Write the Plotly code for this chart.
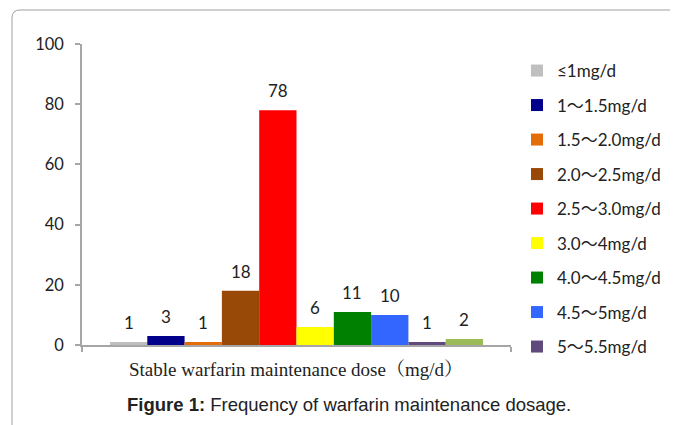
import plotly.graph_objects as go

categories = ["≤1mg/d", "1～1.5mg/d", "1.5～2.0mg/d", "2.0～2.5mg/d", "2.5～3.0mg/d",
              "3.0～4mg/d", "4.0～4.5mg/d", "4.5～5mg/d", "5～5.5mg/d", "≥5.5mg/d"]
counts = [1, 3, 1, 18, 78, 6, 11, 10, 1, 2]
colors = ["#bfbfbf", "#00008b", "#e46c0a", "#984807", "#ff0000",
          "#ffff00", "#008000", "#3366ff", "#604a7b", "#9bbb59"]
in_legend = [True] * 9 + [False]

# page has an 8px body margin; figure is sized so it ends at the window edge
OFF = 8
W, H = 678 - OFF, 425 - OFF
# plot area in window pixels
VL, VR, VT, VB = 82, 511, 44, 345
L, R, T, B = VL - OFF, VR - OFF, VT - OFF, VB - OFF
pw, ph = R - L, B - T

def px(x):  # window pixel -> paper
    return (x - VL) / pw

def py(y):
    return (VB - y) / ph

n = len(counts)
xpos = list(range(n))
pad_units = 0.75  # empty space on each side of the bar block, in bar widths

calibri_like = "Lato, Noto Sans CJK SC, sans-serif"

fig = go.Figure()
for i, (name, v, c) in enumerate(zip(categories, counts, colors)):
    fig.add_trace(go.Bar(
        x=[xpos[i]], y=[v], name=name, width=1,
        marker=dict(color=c, line=dict(width=0)),
        showlegend=in_legend[i], legendgroup=f"g{i}",
        hovertemplate=f"{name}: %{{y}}<extra></extra>",
    ))

annotations = []
for i, v in enumerate(counts):
    annotations.append(dict(x=xpos[i], y=v, xref="x", yref="y", text=str(v),
                            showarrow=False, xanchor="center", yanchor="bottom", yshift=7,
                            font=dict(family=calibri_like, size=17, color="#222")))
annotations.append(dict(text="Stable warfarin maintenance dose（mg/d）",
                        x=px(296), y=py(369), xref="paper", yref="paper", showarrow=False,
                        xanchor="center", yanchor="middle",
                        font=dict(family="Liberation Serif, Noto Serif CJK SC, serif", size=19, color="#222")))
annotations.append(dict(text="<b>Figure 1:</b> Frequency of warfarin maintenance dosage.",
                        x=px(349), y=py(404), xref="paper", yref="paper", showarrow=False,
                        xanchor="center", yanchor="middle",
                        font=dict(family="Liberation Sans, Arial, sans-serif", size=18.5, color="#222")))

r = 8
x0, y0 = px(12), py(10)
x1, y1 = px(700), py(450)
path = f"M {x1},{y0} L {x0 + r / pw},{y0} Q {x0},{y0} {x0},{y0 - r / ph} L {x0},{y1}"

xr = [-0.5 - pad_units, n - 0.5 + pad_units]

fig.update_layout(
    width=W, height=H,
    margin=dict(l=L, r=W - R, t=T, b=H - B, pad=0),
    paper_bgcolor="white", plot_bgcolor="white",
    barmode="overlay",
    showlegend=True,
    legend=dict(x=px(517), xanchor="left", y=py(53), yanchor="top",
                font=dict(family=calibri_like, size=17, color="#222"),
                tracegroupgap=9.4, itemwidth=30, bgcolor="rgba(0,0,0,0)", maxheight=400),
    xaxis=dict(range=xr, showticklabels=False, showline=True, linecolor="#a6a6a6", linewidth=1.5,
               ticks="outside", tickvals=xr, ticklen=5, tickcolor="#a6a6a6", tickwidth=1.5,
               showgrid=False, zeroline=False),
    yaxis=dict(range=[0, 100], dtick=20, showline=True, linecolor="#a6a6a6", linewidth=1.5,
               ticks="outside", ticklen=5, tickcolor="#a6a6a6", tickwidth=1.5,
               showgrid=False, zeroline=False,
               tickfont=dict(family=calibri_like, size=16.5, color="#222"), ticklabelstandoff=8),
    shapes=[dict(type="path", path=path, xref="paper", yref="paper",
                 line=dict(color="#a0a0a0", width=1), layer="above")],
    annotations=annotations,
)

fig.write_html("out.html")
